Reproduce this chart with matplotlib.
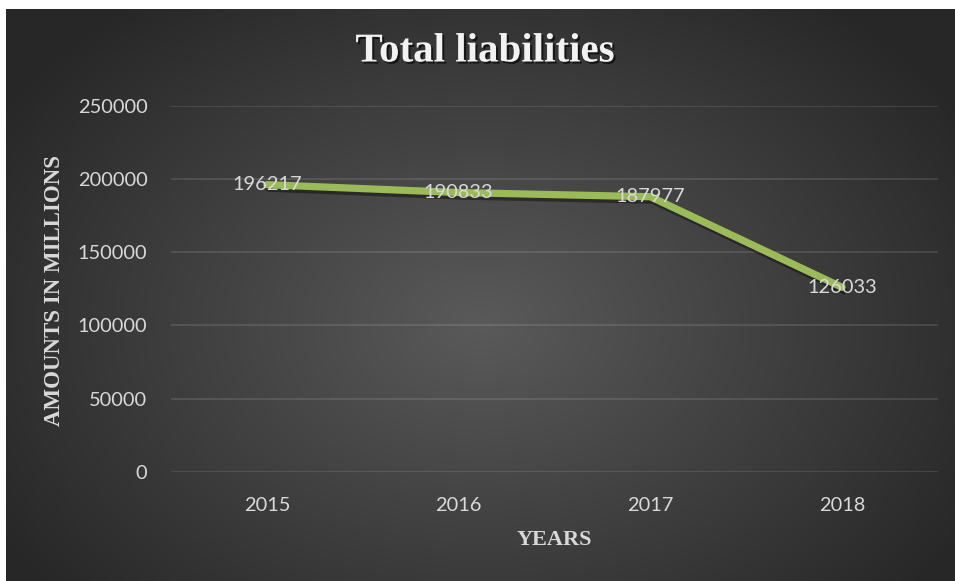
import numpy as np
import matplotlib
matplotlib.use("Agg")
import matplotlib.pyplot as plt
import matplotlib.patheffects as pe

years = ["2015", "2016", "2017", "2018"]
liabilities = [196217, 190833, 187977, 126033]
y_ticks = [0, 50000, 100000, 150000, 200000, 250000]

W, H = 955, 581
fig = plt.figure(figsize=(W / 100, H / 100), dpi=100)
fig.patch.set_facecolor("white")

# background panel with radial gradient
x0, y0 = 6, 9
bg = fig.add_axes([x0 / W, 0, 1 - x0 / W, 1 - y0 / H])
bg.set_axis_off()
ny, nx = 300, 500
yy, xx = np.mgrid[0:ny, 0:nx]
cx, cy = nx * 0.5, ny * 0.55
r = np.sqrt(((xx - cx) / (nx * 0.6)) ** 2 + ((yy - cy) / (ny * 0.72)) ** 2)
r = np.clip(r, 0, 1)
light = np.array([0x5a, 0x5a, 0x5a]) / 255
dark = np.array([0x27, 0x27, 0x27]) / 255
img = light[None, None, :] * (1 - r[..., None]) + dark[None, None, :] * r[..., None]
bg.imshow(img, aspect="auto", extent=[0, 1, 0, 1], interpolation="bilinear")
bg.set_xlim(0, 1)
bg.set_ylim(0, 1)

ax = fig.add_axes([171 / W, 1 - 471.7 / H, (938 - 171) / W, (471.7 - 106) / H])
ax.patch.set_alpha(0)
x = np.arange(len(years))
ax.plot(x, liabilities, color="#9BBB59", lw=5.2, solid_capstyle="round",
        solid_joinstyle="round",
        path_effects=[pe.SimpleLineShadow(offset=(1.5, -2.5), shadow_color="black", alpha=0.4),
                      pe.Normal()])
ax.set_xlim(-0.5, len(years) - 0.5)
ax.set_ylim(0, 250000)
ax.set_yticks(y_ticks)
ax.set_yticklabels([str(v) for v in y_ticks])
ax.set_xticks(x)
ax.set_xticklabels(years)
ax.grid(axis="y", color="white", alpha=0.13, lw=1.2)
ax.set_axisbelow(True)
for s in ax.spines.values():
    s.set_visible(False)
ax.tick_params(length=0, colors="#D9D9D9", labelsize=14.4)
ax.tick_params(axis="y", pad=17)
ax.tick_params(axis="x", pad=18)
for lab in ax.get_xticklabels() + ax.get_yticklabels():
    lab.set_fontfamily("Lato")
    lab.set_color("#D9D9D9")

for xi, v in zip(x, liabilities):
    ax.text(xi, v, str(v), ha="center", va="center", color="#D9D9D9",
            fontsize=14.4, family="Lato")

serif = "Liberation Serif"
fig.text(485 / W, 1 - 52 / H, "Total liabilities", ha="center", va="center",
         fontsize=29.5, fontweight="bold", family=serif, color="#F2F2F2",
         path_effects=[pe.withSimplePatchShadow(offset=(1.5, -1.5), shadow_rgbFace="black", alpha=0.6)])
fig.text(554 / W, 1 - 540 / H, "YEARS", ha="center", va="center",
         fontsize=16, fontweight="bold", family=serif, color="#D9D9D9")
fig.text(54 / W, 1 - 290 / H, "AMOUNTS IN MILLIONS", ha="center", va="center",
         rotation=90, fontsize=16.5, fontweight="bold", family=serif, color="#D9D9D9")

fig.savefig("out.png", dpi=100)
